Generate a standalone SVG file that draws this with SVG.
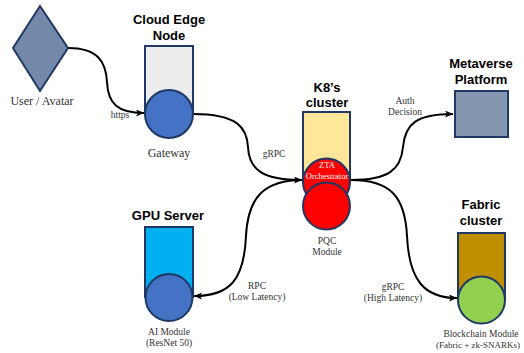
<svg xmlns="http://www.w3.org/2000/svg" width="524" height="353" viewBox="0 0 524 353">
<defs>
<marker id="arr" markerUnits="userSpaceOnUse" markerWidth="10" markerHeight="10" refX="8" refY="3.5" orient="auto">
<path d="M0,0 L8,3.5 L0,7 L2,3.5 z" fill="#000"/>
</marker>
</defs>
<style>
.title{font-family:"Liberation Sans",Arial,sans-serif;font-weight:bold;font-size:13px;fill:#000;text-anchor:middle}
.lbl{font-family:"Liberation Serif","Times New Roman",serif;font-size:9.5px;fill:#333;text-anchor:middle}
.big{font-family:"Liberation Serif","Times New Roman",serif;font-size:12px;fill:#333;text-anchor:middle}
.wt{font-family:"Liberation Serif","Times New Roman",serif;font-size:8.5px;fill:#fff;text-anchor:middle}
.sh{stroke:#203864;stroke-width:2}
.conn{fill:none;stroke:#000;stroke-width:2;marker-end:url(#arr)}
</style>
<rect width="524" height="353" fill="#fff"/>
<g id="connectors">
<path class="conn" d="M68,48 C98,48 106,62 107,82 C108,104 118,113 144,113"/>
<path class="conn" d="M193,114 C238,114 247,128 248,147 C249,170 263,180 302,180"/>
<path class="conn" d="M351,180 C388,180 401,170 403,147 C405,124 416,114 453,114"/>
<path class="conn" d="M303,180 C265,180 248,196 246,236 C244,280 230,296 194,296"/>
<path class="conn" d="M351,180 C390,180 405,196 407,236 C409,280 424,298 457,298"/>
<text class="lbl" x="120" y="118">https</text>
<text class="lbl" x="274" y="157">gRPC</text>
<text class="lbl" x="405" y="104">Auth</text>
<text class="lbl" x="405" y="115">Decision</text>
<text class="lbl" x="257" y="289">RPC</text>
<text class="lbl" x="257" y="300">(Low Latency)</text>
<text class="lbl" x="393" y="290">gRPC</text>
<text class="lbl" x="393" y="301">(High Latency)</text>
</g>
<g id="user">
<polygon class="sh" points="40,6 68,48 40,91 13,48" fill="#7489AA"/>
<text class="big" x="42" y="105">User / Avatar</text>
</g>
<g id="cloud-edge">
<text class="title" x="169" y="24">Cloud Edge</text>
<text class="title" x="169" y="40">Node</text>
<rect class="sh" x="145" y="46" width="48" height="68" fill="#EDEDED"/>
<circle class="sh" cx="169" cy="114" r="24" fill="#4472C4"/>
<text class="big" x="169" y="157">Gateway</text>
</g>
<g id="k8s">
<text class="title" x="327" y="92">K8’s</text>
<text class="title" x="327" y="107">cluster</text>
<rect class="sh" x="303" y="112" width="47" height="70" fill="#FFE699"/>
<circle class="sh" cx="326.5" cy="182" r="23.5" fill="#FF0000"/>
<text class="wt" x="327" y="168">ZTA</text>
<text class="wt" x="327" y="179">Orchestrator</text>
<circle class="sh" cx="326.5" cy="206" r="23.5" fill="#FF0000"/>
<text class="lbl" x="327" y="244">PQC</text>
<text class="lbl" x="327" y="255">Module</text>
</g>
<g id="metaverse">
<text class="title" x="481" y="68">Metaverse</text>
<text class="title" x="481" y="84">Platform</text>
<rect class="sh" x="455" y="91" width="53" height="46" fill="#8497B0"/>
</g>
<g id="gpu">
<text class="title" x="168" y="220">GPU Server</text>
<rect class="sh" x="145" y="227" width="48" height="70" fill="#00B0F0"/>
<circle class="sh" cx="169" cy="297.5" r="23.5" fill="#4472C4"/>
<text class="lbl" x="169" y="335">AI Module</text>
<text class="lbl" x="169" y="346">(ResNet 50)</text>
</g>
<g id="fabric">
<text class="title" x="481" y="209">Fabric</text>
<text class="title" x="481" y="225">cluster</text>
<rect class="sh" x="458" y="233" width="47" height="67" fill="#BF8F00"/>
<circle class="sh" cx="481.5" cy="300" r="23.5" fill="#92D050"/>
<text class="lbl" x="481" y="337">Blockchain Module</text>
<text class="lbl" x="478" y="348" style="font-size:9px">(Fabric + zk-SNARKs)</text>
</g>
</svg>
